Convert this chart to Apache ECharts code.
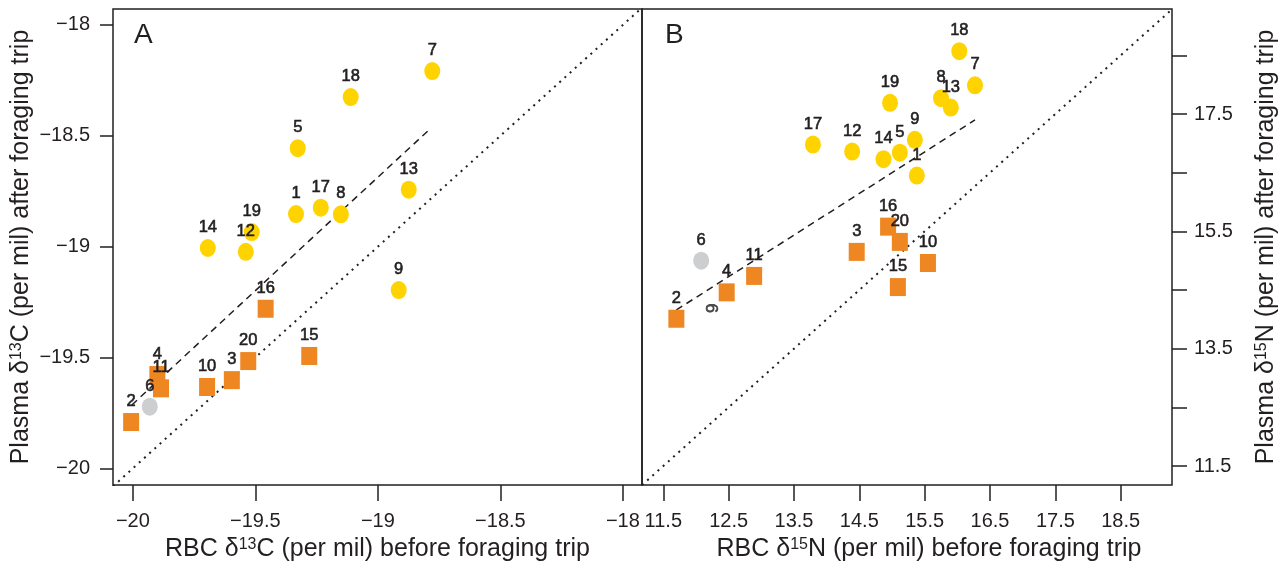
<!DOCTYPE html>
<html>
<head>
<meta charset="utf-8">
<script src="https://cdn.jsdelivr.net/npm/echarts@6/dist/echarts.min.js"></script>
<style>
html,body{margin:0;padding:0;background:#fff;}
#chart{width:1285px;height:569px;}
</style>
</head>
<body>
<div id="chart"></div>
<script>
// ---------- Panel A : delta 13C ----------
const aCircleIds = ['1','5','7','8','9','12','13','14','17','18','19'];
const aCircleX = [-19.334,-19.327,-18.778,-19.151,-18.915,-19.539,-18.874,-19.694,-19.233,-19.111,-19.515];
const aCircleY = [-18.853,-18.556,-18.208,-18.854,-19.196,-19.023,-18.743,-19.006,-18.824,-18.325,-18.934];
const aSquareIds = ['2','3','4','10','11','15','16','20'];
const aSquareX = [-20.007,-19.596,-19.900,-19.697,-19.885,-19.280,-19.458,-19.529];
const aSquareY = [-19.791,-19.602,-19.579,-19.633,-19.639,-19.493,-19.280,-19.516];
const aGrayIds = ['6'];
const aGrayX = [-19.931];
const aGrayY = [-19.722];
const aFitX = [-20.004,-18.796];
const aFitY = [-19.714,-18.478];
const aXRange = [-20.081,-17.922];
const aYRange = [-20.075,-17.928];
const aTicks = [-20,-19.5,-19,-18.5,-18];

// ---------- Panel B : delta 15N ----------
const bCircleIds = ['1','5','7','8','9','12','13','14','17','18','19'];
const bCircleX = [15.38,15.12,16.27,15.75,15.35,14.39,15.90,14.87,13.79,16.03,14.97];
const bCircleY = [16.45,16.84,17.99,17.77,17.06,16.86,17.61,16.73,16.98,18.57,17.69];
const bSquareIds = ['2','3','4','10','11','15','16','20'];
const bSquareX = [11.70,14.46,12.47,15.55,12.89,15.09,14.94,15.12];
const bSquareY = [14.01,15.15,14.46,14.96,14.74,14.55,15.58,15.32];
const bGrayIds = ['6'];
const bGrayX = [12.08];
const bGrayY = [15.00];
const bFitX = [11.70,16.27];
const bFitY = [14.16,17.40];
const bStrayText = ['9'];
const bStrayX = [12.26];
const bStrayY = [14.19];
const bXRange = [11.174,19.285];
const bYRange = [11.176,19.29];
const bXTicks = [11.5,12.5,13.5,14.5,15.5,16.5,17.5,18.5];
const bYTicks = [11.5,12.5,13.5,14.5,15.5,16.5,17.5,18.5];
const bYLabels = [11.5,13.5,15.5,17.5];

// ---------- styling ----------
const INK = '#231F20';
const FONT = '"Liberation Sans", Arial, Helvetica, sans-serif';
const YELLOW = '#FFD300';
const ORANGE = '#EE8722';
const GRAY = '#CDCECF';

function pts(ids, xs, ys){ return ids.map((id,i)=>({name:id, value:[xs[i], ys[i]]})); }
function pairs(xs, ys){ return xs.map((x,i)=>[x, ys[i]]); }
const fmt = v => String(v).replace('-', '\u2212');

const pointLabel = {show:true, position:'top', distance:3, formatter:'{b}', color:INK, fontSize:16.5,
  fontFamily:FONT, textBorderColor:INK, textBorderWidth:0.6};

function scatter(idx, data, symbol, color){
  return {type:'scatter', xAxisIndex:idx, yAxisIndex:idx, data:data, symbol:symbol,
    symbolSize:[16,18], itemStyle:{color:color, opacity:1}, label:pointLabel,
    emphasis:{disabled:true}, z:3};
}
function line(idx, data, dash){
  return {type:'line', xAxisIndex:idx, yAxisIndex:idx, data:data, symbol:'none',
    lineStyle:{color:INK, width:dash==='dot'?2:1.5, type: dash==='dot'?[2,5]:[7,5]},
    emphasis:{disabled:true}, z:2, silent:true};
}

const axisNameStyle = {fontSize:25, color:INK, fontFamily:FONT,
  rich:{sup:{fontSize:16, color:INK, fontFamily:FONT, verticalAlign:'top', lineHeight:16}}};

const option = {
  animation:false,
  backgroundColor:'#fff',
  grid:[
    {left:113, top:9, width:529, height:476, show:true, borderColor:INK, borderWidth:1.5, backgroundColor:'transparent'},
    {left:642, top:9, width:530, height:476, show:true, borderColor:INK, borderWidth:1.5, backgroundColor:'transparent'}
  ],
  xAxis:[
    {type:'value', gridIndex:0, min:aXRange[0], max:aXRange[1],
      axisLine:{show:false}, splitLine:{show:false},
      axisTick:{show:true, customValues:aTicks, length:16, lineStyle:{color:INK, width:1.5}},
      axisLabel:{customValues:aTicks, formatter:fmt, fontSize:20, color:INK, fontFamily:FONT, margin:26},
      name:'RBC δ{sup|13}C (per mil) before foraging trip', nameLocation:'middle', nameGap:52,
      nameTextStyle:axisNameStyle},
    {type:'value', gridIndex:1, min:bXRange[0], max:bXRange[1],
      axisLine:{show:false}, splitLine:{show:false},
      axisTick:{show:true, customValues:bXTicks, length:16, lineStyle:{color:INK, width:1.5}},
      axisLabel:{customValues:bXTicks, formatter:fmt, fontSize:20, color:INK, fontFamily:FONT, margin:26},
      name:'RBC δ{sup|15}N (per mil) before foraging trip', nameLocation:'middle', nameGap:52,
      nameTextStyle:Object.assign({}, axisNameStyle, {padding:[0,0,0,44]})}
  ],
  yAxis:[
    {type:'value', gridIndex:0, position:'left', min:aYRange[0], max:aYRange[1],
      axisLine:{show:false}, splitLine:{show:false},
      axisTick:{show:true, customValues:aTicks, length:13, lineStyle:{color:INK, width:1.5}},
      axisLabel:{customValues:aTicks, formatter:fmt, fontSize:20, color:INK, fontFamily:FONT, margin:23},
      name:'Plasma δ{sup|13}C (per mil) after foraging trip', nameLocation:'middle', nameGap:79, nameRotate:90,
      nameTextStyle:axisNameStyle},
    {type:'value', gridIndex:1, position:'right', min:bYRange[0], max:bYRange[1],
      axisLine:{show:false}, splitLine:{show:false},
      axisTick:{show:true, customValues:bYTicks, length:15, lineStyle:{color:INK, width:1.5}},
      axisLabel:{customValues:bYLabels, formatter:fmt, fontSize:20, color:INK, fontFamily:FONT, margin:22},
      name:'Plasma δ{sup|15}N (per mil) after foraging trip', nameLocation:'middle', nameGap:82, nameRotate:90,
      nameTextStyle:axisNameStyle}
  ],
  graphic:[
    {type:'text', left:134, top:21, style:{text:'A', fontSize:28, fill:INK, fontFamily:FONT}},
    {type:'text', left:665, top:21, style:{text:'B', fontSize:28, fill:INK, fontFamily:FONT}}
  ],
  series:[
    line(0, [[aXRange[0],aXRange[0]],[aXRange[1],aXRange[1]]], 'dot'),
    line(0, pairs(aFitX, aFitY), 'dash'),
    scatter(0, pts(aSquareIds, aSquareX, aSquareY), 'rect', ORANGE),
    scatter(0, pts(aGrayIds, aGrayX, aGrayY), 'circle', GRAY),
    scatter(0, pts(aCircleIds, aCircleX, aCircleY), 'circle', YELLOW),
    line(1, [[bXRange[0],bXRange[0]],[bXRange[1],bXRange[1]]], 'dot'),
    line(1, pairs(bFitX, bFitY), 'dash'),
    scatter(1, pts(bSquareIds, bSquareX, bSquareY), 'rect', ORANGE),
    scatter(1, pts(bGrayIds, bGrayX, bGrayY), 'circle', GRAY),
    scatter(1, pts(bCircleIds, bCircleX, bCircleY), 'circle', YELLOW),
    {type:'scatter', xAxisIndex:1, yAxisIndex:1, data:pts(bStrayText, bStrayX, bStrayY),
      symbolSize:0, silent:true,
      label:{show:true, position:'inside', formatter:'{b}', rotate:90, color:INK, fontSize:17,
        fontFamily:FONT, textBorderColor:INK, textBorderWidth:0.6}}
  ]
};

const chart = echarts.init(document.getElementById('chart'), null, {renderer:'canvas'});
chart.setOption(option);
</script>
</body>
</html>
